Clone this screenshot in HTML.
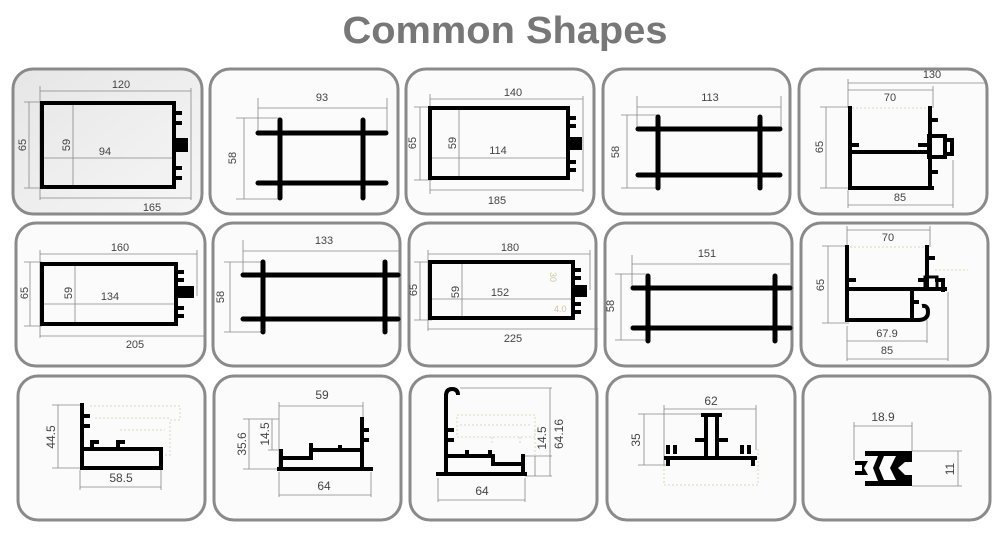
<!DOCTYPE html>
<html><head><meta charset="utf-8"><style>
html,body{margin:0;padding:0;background:#fff;}
svg{display:block;}
text{font-family:"Liberation Sans",sans-serif;font-size:11px;fill:#444;}
.d{stroke:#888;stroke-width:0.8;fill:none;}
.p{stroke:#000;stroke-width:4;fill:none;stroke-linecap:square;}
.b{stroke:#000;stroke-width:5;fill:none;stroke-linecap:round;}
.box{fill:#fbfbfb;stroke:#8a8a8a;stroke-width:3;}
.dot{stroke:#d8d8b8;stroke-width:1;fill:none;stroke-dasharray:2 2;}
</style></head><body>
<svg width="1000" height="534" viewBox="0 0 1000 534" xmlns="http://www.w3.org/2000/svg">
<defs><linearGradient id="g1" x1="0" y1="0" x2="1" y2="1"><stop offset="0" stop-color="#e6e6e6"/><stop offset="1" stop-color="#f6f6f6"/></linearGradient></defs>
<text x="505" y="43" text-anchor="middle" style="font-size:38px;font-weight:bold;fill:#777" textLength="325" lengthAdjust="spacingAndGlyphs">Common Shapes</text>

<!-- boxes -->
<rect x="13" y="69" width="189" height="145" rx="20" class="box" style="fill:url(#g1)"/>
<rect x="210" y="69" width="188" height="145" rx="20" class="box"/>
<rect x="406" y="69" width="188" height="145" rx="20" class="box"/>
<rect x="603" y="69" width="187" height="145" rx="20" class="box"/>
<rect x="799" y="69" width="188" height="145" rx="20" class="box"/>
<rect x="16" y="223" width="189" height="143" rx="20" class="box"/>
<rect x="213" y="223" width="187" height="143" rx="20" class="box"/>
<rect x="409" y="223" width="187" height="143" rx="20" class="box"/>
<rect x="605" y="223" width="187" height="143" rx="20" class="box"/>
<rect x="801" y="223" width="187" height="143" rx="20" class="box"/>
<rect x="18" y="376" width="187" height="144" rx="20" class="box"/>
<rect x="214" y="376" width="187" height="144" rx="20" class="box"/>
<rect x="410" y="376" width="187" height="144" rx="20" class="box"/>
<rect x="607" y="376" width="188" height="144" rx="20" class="box"/>
<rect x="803" y="376" width="187" height="144" rx="20" class="box"/>

<!-- Box 1 -->
<path class="d" d="M40 91H191M40 86V200M29 102V188M24 102H42M24 188H42M73 102V187M42 158H172M40 198H191M191 88V200"/>
<path class="p" d="M174 103H42V187H174M174 103V187"/>
<rect x="172" y="138" width="16" height="14" fill="#000"/>
<path class="p" d="M176 113h4M176 123h4M176 168h4M176 178h4" stroke-width="3"/>
<text x="121" y="88" text-anchor="middle">120</text>
<text transform="translate(26,145) rotate(-90)" text-anchor="middle">65</text>
<text transform="translate(70,145) rotate(-90)" text-anchor="middle">59</text>
<text x="105" y="155" text-anchor="middle">94</text>
<text x="152" y="211" text-anchor="middle">165</text>

<!-- Box 2 -->
<path class="d" d="M258 108H387M258 98V133M387 98V133M244 118V199M236 118H280M236 199H280"/>
<path class="b" d="M258 133H386M258 183H386M280 120V198M363 120V198"/>
<text x="322" y="101" text-anchor="middle">93</text>
<text transform="translate(236,158) rotate(-90)" text-anchor="middle">58</text>

<!-- Box 3 -->
<path class="d" d="M430 99H583M430 94V194M420 107V180M414 107H432M414 180H432M459 108V178M432 158H568M430 190H583M583 96V192"/>
<path class="p" d="M568 108H430V178H568M568 108V178"/>
<rect x="568" y="137" width="14" height="13" fill="#000"/>
<path class="p" d="M570 118h4M570 126h4M570 162h4M570 170h4" stroke-width="3"/>
<text x="513" y="96" text-anchor="middle">140</text>
<text transform="translate(416,143) rotate(-90)" text-anchor="middle">65</text>
<text transform="translate(456,143) rotate(-90)" text-anchor="middle">59</text>
<text x="498" y="154" text-anchor="middle">114</text>
<text x="497" y="204" text-anchor="middle">185</text>

<!-- Box 4 -->
<path class="d" d="M637 107H781M637 96V129M781 96V129M627 115V188M621 115H660M621 188H660"/>
<path class="b" d="M638 129H780M638 175H780M658 117V188M760 117V188"/>
<text x="710" y="101" text-anchor="middle">113</text>
<text transform="translate(619,152) rotate(-90)" text-anchor="middle">58</text>

<!-- Box 5 -->
<path class="d" d="M848 83H985M848 79V108M933 86V108M848 90H933M826 107V188M820 107H850M820 188H850M848 205H953M848 190V208M953 160V208"/>
<path class="dot" d="M852 108H928"/>
<path class="p" d="M850 108V188H932M850 152H929M930 108V188"/>
<rect x="929" y="136" width="16" height="21" fill="none" stroke="#000" stroke-width="4"/>
<path class="p" d="M945 140h7v14h-7M852 145h5M920 145h8M932 120h4M932 172h4" stroke-width="3"/>
<text x="932" y="78" text-anchor="middle">130</text>
<text x="890" y="101" text-anchor="middle">70</text>
<text transform="translate(823,147) rotate(-90)" text-anchor="middle">65</text>
<text x="900" y="201" text-anchor="middle">85</text>

<!-- Box 6 -->
<path class="d" d="M40 254H197M40 250V338M197 250V296M30 262V326M24 262H42M24 326H42M75 264V324M42 304H176M40 336H205"/>
<path class="p" d="M176 264H42V324H176M176 264V324"/>
<rect x="176" y="286" width="18" height="12" fill="#000"/>
<path class="p" d="M178 272h4M178 280h4M178 308h4M178 316h4" stroke-width="3"/>
<text x="120" y="251" text-anchor="middle">160</text>
<text transform="translate(28,293) rotate(-90)" text-anchor="middle">65</text>
<text transform="translate(72,293) rotate(-90)" text-anchor="middle">59</text>
<text x="110" y="300" text-anchor="middle">134</text>
<text x="135" y="348" text-anchor="middle">205</text>

<!-- Box 7 -->
<path class="d" d="M243 251H400M243 240V275M230 262V332M224 262H263M224 332H263"/>
<path class="b" d="M243 275H398M243 319H398M263 262V332M385 262V332"/>
<text x="324" y="244" text-anchor="middle">133</text>
<text transform="translate(224,297) rotate(-90)" text-anchor="middle">58</text>

<!-- Box 8 -->
<path class="d" d="M428 254H590M428 250V331M590 250V290M420 262V320M414 262H432M414 320H432M462 262V318M432 299H573M428 329H598"/>
<path class="p" d="M573 262H430V318H573M573 262V318"/>
<rect x="573" y="285" width="14" height="12" fill="#000"/>
<path class="p" d="M575 270h4M575 278h4M575 304h4M575 312h4" stroke-width="3"/>
<text x="550" y="272" style="font-size:9px;fill:#cbc9a0" transform="rotate(90 550 272)">30</text>
<text x="554" y="312" style="font-size:9px;fill:#cbc9a0">4.0</text>
<text x="510" y="251" text-anchor="middle">180</text>
<text transform="translate(417,290) rotate(-90)" text-anchor="middle">65</text>
<text transform="translate(459,292) rotate(-90)" text-anchor="middle">59</text>
<text x="500" y="296" text-anchor="middle">152</text>
<text x="513" y="342" text-anchor="middle">225</text>

<!-- Box 9 -->
<path class="d" d="M632 264H790M632 255V288M621 274V340M615 274H648M615 340H648"/>
<path class="b" d="M633 288H790M633 328H790M648 276V341M775 276V341"/>
<text x="707" y="257" text-anchor="middle">151</text>
<text transform="translate(614,306) rotate(-90)" text-anchor="middle">58</text>

<!-- Box 10 -->
<path class="d" d="M847 230H930M847 226V247M930 226V247M828 246V323M822 246H849M822 323H849M847 341H927M847 326V361M927 320V343M847 359H948M948 292V361"/>
<path class="dot" d="M850 247H925M935 270H968"/>
<path class="p" d="M847 247V320H918M847 289H945M927 247V289M912 289V320"/>
<path d="M918 320q10 0 10 -8q0 -7 -6 -6" fill="none" stroke="#000" stroke-width="4"/>
<rect x="925" y="277" width="12" height="12" fill="none" stroke="#000" stroke-width="3"/>
<path class="p" d="M937 280h6v10M849 280h5M920 280h6M929 258h4M914 302h3" stroke-width="3"/>
<text x="888" y="241" text-anchor="middle">70</text>
<text transform="translate(824,285) rotate(-90)" text-anchor="middle">65</text>
<text x="887" y="337" text-anchor="middle">67.9</text>
<text x="887" y="354" text-anchor="middle">85</text>

<!-- Box 11 -->
<path class="dot" d="M90 406H180V420H170V455H160M95 418H170M120 430H165"/>
<path class="d" d="M58 405V468M52 405H82M52 468H82M80 487H161M80 470V490M161 470V490"/>
<path class="p" d="M82 405V468H161V449H82"/>
<path class="p" d="M84 416h4M84 426h4M92 449v-7h5M118 449v-7h5" stroke-width="3"/>
<text transform="translate(55,437) rotate(-90)" text-anchor="middle" style="font-size:12px">44.5</text>
<text x="121" y="482" text-anchor="middle" style="font-size:12px">58.5</text>

<!-- Box 12 -->
<path class="d" d="M279 406H363M279 402V469M363 402V420M249 419V469M243 419H279M243 469H279M272 419V450M268 450H279M279 495H371M279 472V497M371 472V497"/>
<path class="p" d="M362 419V469M279 469H371M281 451V469M281 458H311V450H362" />
<path class="p" d="M364 430h3M364 440h3M311 448v-3M340 450v-3" stroke-width="3"/>
<text x="322" y="399" text-anchor="middle" style="font-size:12px">59</text>
<text transform="translate(246,444) rotate(-90)" text-anchor="middle" style="font-size:12px">35.6</text>
<text transform="translate(269,434) rotate(-90)" text-anchor="middle" style="font-size:12px">14.5</text>
<text x="324" y="490" text-anchor="middle" style="font-size:12px">64</text>

<!-- Box 13 -->
<path class="dot" d="M457 415H535V437H457ZM460 425H532M492 437v6M520 437v6M535 430v25"/>
<path class="d" d="M460 388H552M550 388V476M535 456V476M525 456H552M525 476H552M438 500H525M438 478V502M525 478V502"/>
<path class="p" d="M446 474V396M438 474H525M446 456H493V464H523V456M523 456V474"/>
<path d="M446 396q0 -7 6 -7q6 0 6 6" fill="none" stroke="#000" stroke-width="4"/>
<path class="p" d="M448 430h4M448 440h4M467 455v-3M490 455v-3" stroke-width="3"/>
<text x="482" y="495" text-anchor="middle" style="font-size:12px">64</text>
<text transform="translate(563,434) rotate(-90)" text-anchor="middle" style="font-size:12px">64.16</text>
<text transform="translate(546,438) rotate(-90)" text-anchor="middle" style="font-size:12px">14.5</text>

<!-- Box 14 -->
<path class="dot" d="M664 465V485H758V448"/>
<path class="d" d="M664 409H756M664 405V465M756 405V450M644 414V465M638 414H706M638 465H666"/>
<path class="p" d="M666 458H755M706 415V458M717 415V458M703 415H720M697 440h9M717 440h9M668 452v-5M675 452v-5M742 452v-5M749 452v-5"/>
<path class="p" d="M668 458v6M753 458v6" stroke-width="4"/>
<text x="711" y="405" text-anchor="middle" style="font-size:12px">62</text>
<text transform="translate(640,440) rotate(-90)" text-anchor="middle" style="font-size:12px">35</text>

<!-- Box 15 -->
<path class="d" d="M854 426H912M854 422V460M912 422V451M912 451H962M912 486H962M958 451V486"/>
<path d="M865 451H912V462H905L898 468L905 475H912V486H865V481H878L873 468L878 456H865Z" fill="#000"/>
<path d="M855 461H868L864 468L868 475H855V471H862V465H855Z" fill="#000"/>
<path d="M884 456H896L890 468L896 480H884L879 468Z" fill="#fff"/>
<text x="883" y="421" text-anchor="middle" style="font-size:12px">18.9</text>
<text transform="translate(954,469) rotate(-90)" text-anchor="middle" style="font-size:12px">11</text>
</svg>
</body></html>
